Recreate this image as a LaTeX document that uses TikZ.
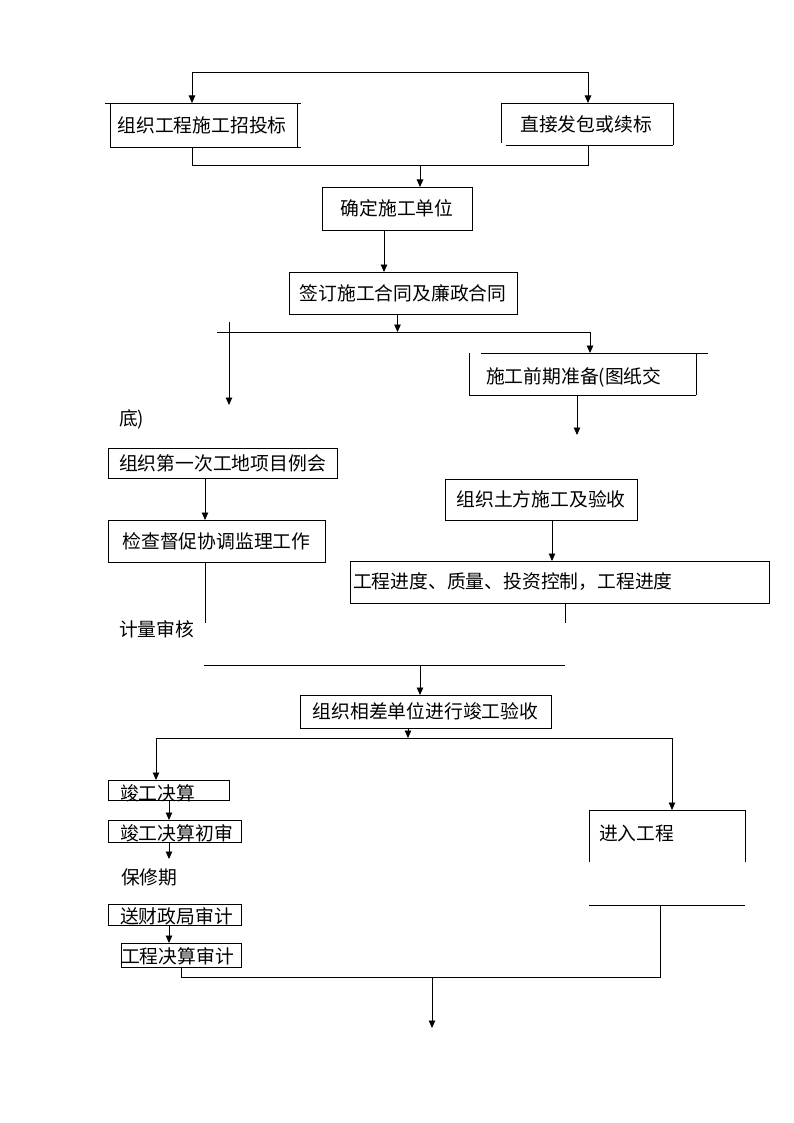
\documentclass[tikz,border=0pt]{standalone}
\usepackage{fontspec}
\newfontfamily\cjk{Noto Sans CJK SC}
\usetikzlibrary{arrows.meta}
\begin{document}
\begin{tikzpicture}[x=1pt,y=-1pt,line width=0.9pt,
  every node/.style={font={\cjk\fontsize{18.8pt}{20pt}\selectfont},inner sep=0pt,outer sep=0pt},
  box/.style={draw,line width=0.9pt},
  arr/.style={-{Triangle[width=6.5pt,length=7.5pt]}}]
\useasboundingbox[fill=white] (0,0) rectangle (794,1123);

% ---- top: two ways of tendering
\coordinate (top) at (390,72);
\coordinate (b1n) at (192,103);
\coordinate (b2n) at (588,103);
\draw[arr] (top) -| (b1n);
\draw[arr] (top) -| (b2n);

\node (b1) at (202,125) {组织工程施工招投标};
\draw (105,103) -- (301,103) (110,103) -- (110,147) (297,103) -- (297,147) (110,147) -- (301,147);
\node (b2) at (586,124) {直接发包或续标};
\draw (501,103) -- (673,103) (501,103) -- (501,143) (673,103) -- (673,145) (506,145) -- (673,145);

\coordinate (b1s) at (192,147);
\coordinate (b2s) at (588,145);
\draw (b1s) -- ++(0,18) -| (b2s);

\node[box,minimum width=150pt,minimum height=43pt] (b3) at (397,208.5) {确定施工单位};
\coordinate (m1) at (420,165);
\draw[arr] (m1) -- (m1 |- b3.north);

\node[box,minimum width=228pt,minimum height=42pt] (b4) at (403,293) {签订施工合同及廉政合同};
\coordinate (x384) at (384,0);
\draw[arr] (b3.south -| x384) -- (b4.north -| x384);

% ---- split after contract
\coordinate (j2) at (397.5,332);
\draw[arr] (b4.south -| j2) -- (j2);
\coordinate (j2l) at (217,332);
\coordinate (b5n) at (590,353);
\draw[arr] (j2l) -| (b5n);
\coordinate (l1) at (229,322);
\coordinate (l1e) at (229,405);
\draw[arr] (l1) -- (l1e);

\node[anchor=west] (b5) at (486,377) {施工前期准备(图纸交};
\draw (481,353) -- (708,353) (469,353) -- (469,395) (696,353) -- (696,395) (469,395) -- (696,395);
\coordinate (b5s) at (577,395);
\coordinate (b5e) at (577,435);
\draw[arr] (b5s) -- (b5e);

\node[anchor=west] (t1) at (119,419) {底)};

% ---- left column
\node[box,minimum width=229pt,minimum height=30pt] (b6) at (222.5,463) {组织第一次工地项目例会};
\node[box,minimum width=217pt,minimum height=42pt] (b7) at (216.5,541) {检查督促协调监理工作};
\coordinate (x205) at (205,0);
\draw[arr] (b6.south -| x205) -- (b7.north -| x205);
\coordinate (l2e) at (205,623);
\draw (b7.south -| x205) -- (l2e);
\node[anchor=west] (t2) at (119,629) {计量审核};

% ---- right column
\node[box,minimum width=192pt,minimum height=41pt] (b8) at (541,499.5) {组织土方施工及验收};
\node[box,minimum width=419pt,minimum height=42pt,text width=413pt,align=left,inner xsep=3pt] (b9) at (559.5,582) {工程进度、质量、投资控制，工程进度};
\coordinate (x552) at (552,0);
\draw[arr] (b8.south -| x552) -- (b9.north -| x552);
\coordinate (r2e) at (565,623);
\draw (b9.south -| r2e) -- (r2e);

% ---- join
\coordinate (h3l) at (204,665);
\coordinate (h3r) at (565,665);
\draw (h3l) -- (h3r);
\node[box,minimum width=251pt,minimum height=33pt] (b10) at (425.5,711.5) {组织相差单位进行竣工验收};
\coordinate (m3) at (420,665);
\draw[arr] (m3) -- (m3 |- b10.north);

\coordinate (j4) at (408,738);
\draw[arr] (b10.south -| j4) -- (j4);
\coordinate (h4l) at (156,738);
\coordinate (b13n) at (672,810);

% ---- settlement chain
\node[box,minimum width=121pt,minimum height=20pt] (b11) at (168.5,790) {};
\node[anchor=west] (t11) at (120,793) {竣工决算};
\draw[arr] (j4) -| (b11.north -| h4l);
\draw[arr] (j4) -| (b13n);

\node[box,minimum width=133pt,minimum height=22pt] (b12) at (174.5,831) {};
\node[anchor=west] (t12) at (120,833) {竣工决算初审};
\coordinate (x169) at (169,0);
\draw[arr] (b11.south -| x169) -- (b12.north -| x169);
\coordinate (a12e) at (169,859);
\draw[arr] (b12.south -| x169) -- (a12e);
\node[anchor=west] (t3) at (121,877) {保修期};

\node[box,minimum width=133pt,minimum height=21pt] (b14) at (174.5,914.5) {};
\node[anchor=west] (t14) at (120,916) {送财政局审计};
\node[box,minimum width=120pt,minimum height=24pt] (b15) at (181,955) {};
\node[anchor=west] (t15) at (121,956) {工程决算审计};
\draw[arr] (b14.south -| x169) -- (b15.north -| x169);

% ---- enter project
\node[anchor=west] (b13) at (599,833) {进入工程};
\draw (589,810) -- (745,810) (589,810) -- (589,862) (745,810) -- (745,862) (589,905) -- (745,905);

\coordinate (b13b) at (660,905);
\coordinate (x181) at (181,0);
\draw (b15.south -| x181) -- ++(0,10) -| (b13b);
\coordinate (m5) at (432,977);
\coordinate (m5e) at (432,1028);
\draw[arr] (m5) -- (m5e);
\end{tikzpicture}
\end{document}
